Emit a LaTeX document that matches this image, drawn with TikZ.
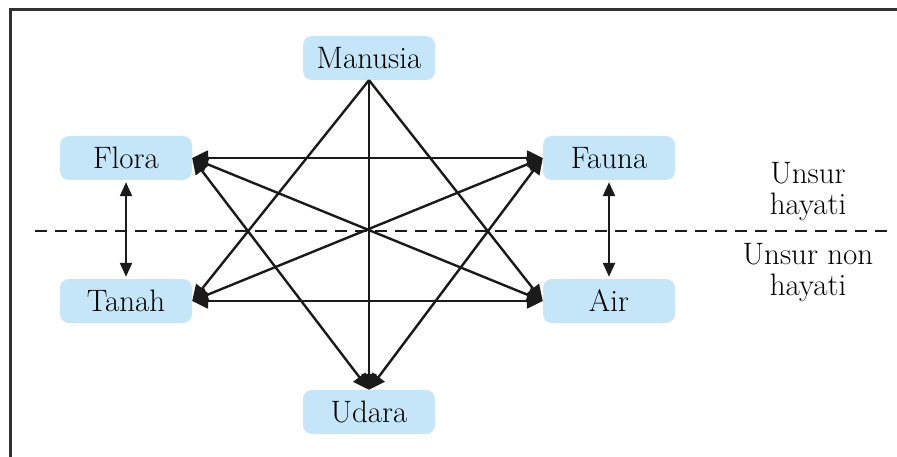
\documentclass[tikz,border=0pt]{standalone}
\usepackage{fontspec}
\setmainfont{Latin Modern Roman}
\usetikzlibrary{arrows.meta}
\definecolor{boxblue}{RGB}{197,230,248}
\definecolor{ink}{RGB}{26,26,26}
\begin{document}
\begin{tikzpicture}[x=1pt,y=-1pt,
  elem/.style={fill=boxblue, rounded corners=9pt, minimum width=132pt, minimum height=44pt, inner sep=0pt, font=\fontsize{31}{34}\selectfont},
  link/.style={draw=ink, line width=2.4pt, -{Triangle[length=16pt,width=15pt]}},
  dlink/.style={draw=ink, line width=2.4pt, {Triangle[length=16pt,width=15pt]}-{Triangle[length=16pt,width=15pt]}},
  vlink/.style={draw=ink, line width=2.2pt, {Triangle[length=14pt,width=12pt]}-{Triangle[length=14pt,width=12pt]}, shorten <=2pt, shorten >=2pt},
  lbl/.style={align=center, font=\fontsize{31}{31}\selectfont, inner sep=0pt}]
\useasboundingbox (0,0) rectangle (897,457);
\draw[color=ink!90, line width=3pt] (10,457) -- (10,10) -- (897,10);
\draw[ink, line width=2pt, dash pattern=on 12pt off 8pt] (35,231) -- (893,231);

\node[elem] (manusia) at (369,58) {Manusia};
\node[elem] (flora) at (126,158) {Flora};
\node[elem] (fauna) at (609,158) {Fauna};
\node[elem] (tanah) at (126,301) {Tanah};
\node[elem] (air) at (609,301) {Air};
\node[elem] (udara) at (369,412) {Udara};

\node[lbl] (hayati) at (808,192) {Unsur\\hayati};
\node[lbl] (nonhayati) at (808,273) {Unsur non\\hayati};

\draw[link] (manusia.south) -- (tanah.east);
\draw[link] (manusia.south) -- (air.west);
\draw[link] (manusia.south) -- (udara.north);
\draw[dlink] (flora.east) -- (fauna.west);
\draw[dlink] (tanah.east) -- (air.west);
\draw[dlink] (flora.east) -- (air.west);
\draw[dlink] (tanah.east) -- (fauna.west);
\draw[dlink] (flora.east) -- (udara.north);
\draw[dlink] (fauna.west) -- (udara.north);
\draw[vlink] (flora.south) -- (tanah.north);
\draw[vlink] (fauna.south) -- (air.north);
\end{tikzpicture}
\end{document}
